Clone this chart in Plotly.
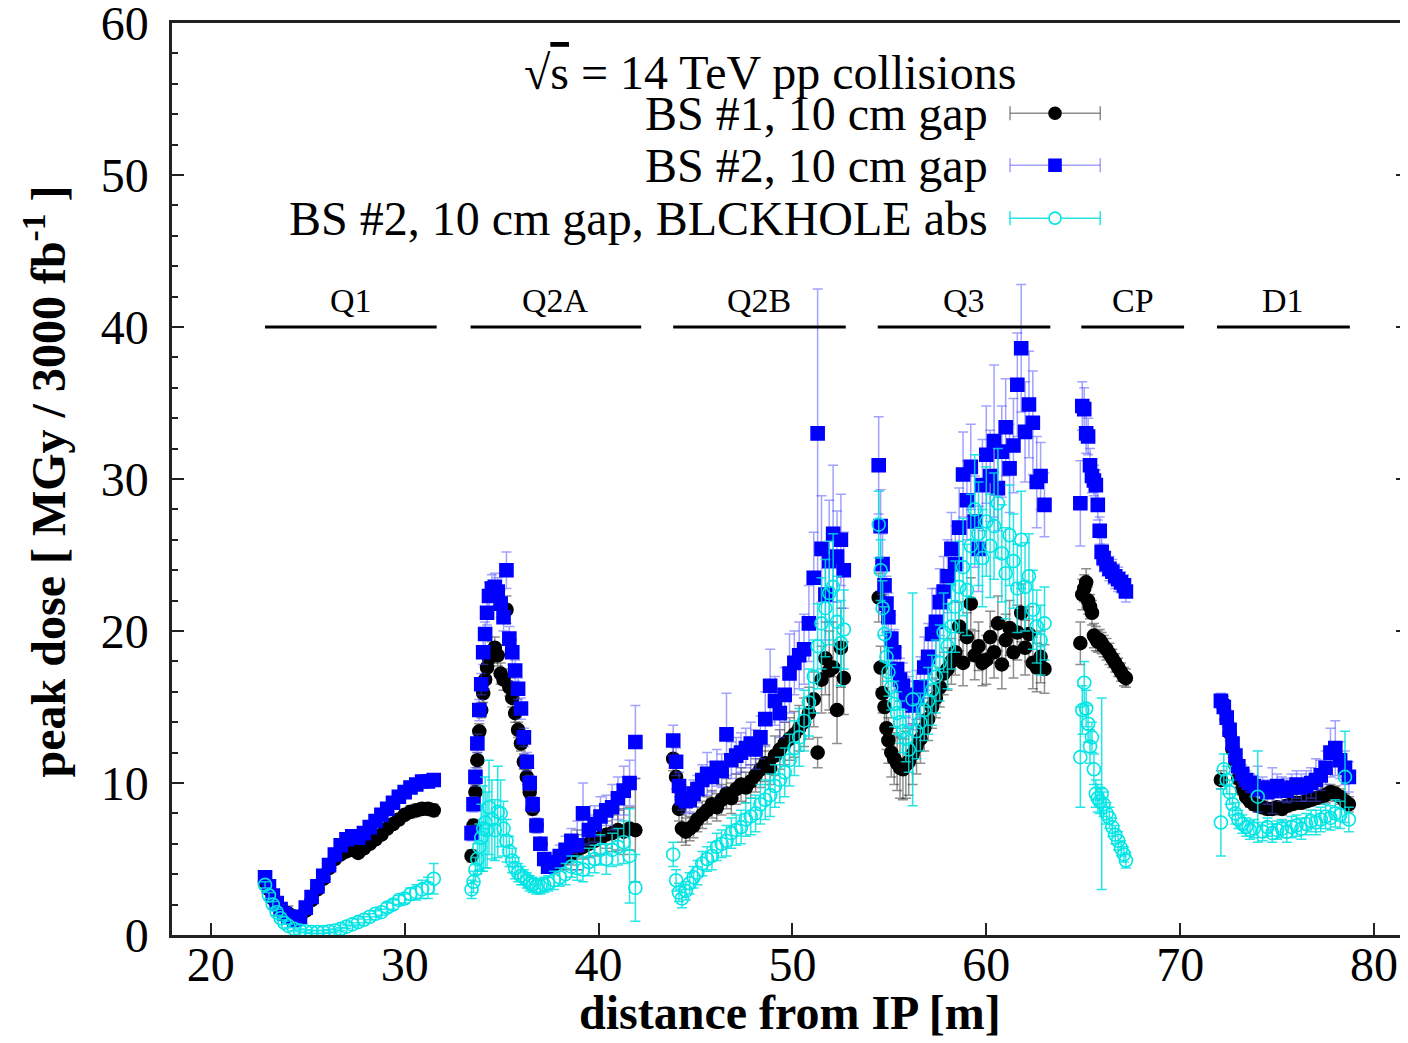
import plotly.graph_objects as go

FONT = "Liberation Serif"

# magnets along the beam line
magnets = ["Q1", "Q2A", "Q2B", "Q3", "CP", "D1"]
mag_start = [22.8, 33.4, 43.85, 54.4, 64.9, 71.9]
mag_end = [31.65, 42.2, 52.75, 63.3, 70.2, 78.75]
mag_level = 40.0

# ---- Q1 ----
z_q1 = [22.8, 23.0, 23.2, 23.4, 23.6, 23.8, 24.0, 24.3, 24.6, 24.9,
        25.2, 25.5, 25.8, 26.1, 26.4, 26.7, 27.0, 27.3, 27.6, 27.9,
        28.2, 28.5, 28.8, 29.1, 29.4, 29.7, 30.0, 30.3, 30.6, 30.9,
        31.2, 31.5]
bs1_q1 = [3.5, 3.0, 2.4, 2.0, 1.7, 1.5, 1.4, 1.2, 1.1, 1.6,
          2.3, 3.0, 3.7, 4.4, 5.0, 5.3, 5.5, 5.6, 5.4, 5.7,
          6.0, 6.3, 6.6, 7.0, 7.3, 7.6, 7.9, 8.1, 8.2, 8.3,
          8.3, 8.2]
bs2_q1 = [3.8, 3.2, 2.6, 2.1, 1.7, 1.4, 1.2, 1.0, 1.2, 1.8,
          2.5, 3.2, 3.9, 4.6, 5.3, 5.9, 6.3, 6.5, 6.4, 6.7,
          7.1, 7.5, 7.9, 8.3, 8.7, 9.1, 9.4, 9.7, 9.9, 10.1,
          10.1, 10.2]
blk_q1 = [3.3, 2.6, 2.0, 1.5, 1.1, 0.8, 0.6, 0.4, 0.3, 0.25,
          0.2, 0.2, 0.2, 0.25, 0.3, 0.4, 0.55, 0.7, 0.85, 1.0,
          1.2, 1.4, 1.5, 1.8, 2.0, 2.3, 2.4, 2.7, 2.8, 3.0,
          3.1, 3.7]
e_bs1_q1 = [0.3, 0.3, 0.3, 0.2, 0.2, 0.3, 0.5, 0.2, 0.2, 0.2,
            0.2, 0.2, 0.3, 0.3, 0.3, 0.3, 0.3, 0.3, 0.3, 0.3,
            0.3, 0.3, 0.3, 0.3, 0.3, 0.3, 0.3, 0.4, 0.4, 0.4,
            0.4, 0.4]
e_bs2_q1 = [0.3, 0.3, 0.3, 0.2, 0.2, 0.2, 0.2, 0.2, 0.2, 0.2,
            0.2, 0.3, 0.3, 0.3, 0.3, 0.3, 0.3, 0.3, 0.3, 0.3,
            0.3, 0.3, 0.3, 0.3, 0.3, 0.3, 0.4, 0.4, 0.4, 0.4,
            0.4, 0.4]
e_blk_q1 = [0.2, 0.2, 0.2, 0.2, 0.1, 0.1, 0.1, 0.1, 0.1, 0.1,
            0.1, 0.1, 0.1, 0.1, 0.1, 0.1, 0.1, 0.1, 0.2, 0.2,
            0.2, 0.2, 0.2, 0.3, 0.3, 0.3, 0.3, 0.4, 0.5, 0.6,
            0.7, 1.0]

# ---- Q2A ----
z_q2a = [33.45, 33.55, 33.65, 33.75, 33.85, 33.95, 34.05, 34.15, 34.25, 34.35,
         34.5, 34.65, 34.8, 34.95, 35.1, 35.25, 35.4, 35.55, 35.7, 35.85,
         36.0, 36.15, 36.3, 36.45, 36.6, 36.8, 37.0, 37.2, 37.4, 37.7,
         38.0, 38.3, 38.6, 38.9, 39.2, 39.5, 39.8, 40.1, 40.4, 40.7,
         41.0, 41.3, 41.6, 41.9]
bs1_q2a = [5.2, 7.2, 9.4, 11.5, 13.4, 14.8, 15.9, 16.8, 17.6, 18.2,
           18.6, 18.9, 18.4, 17.2, 16.8, 21.4, 16.3, 15.6, 14.6, 13.5,
           12.6, 11.4, 10.4, 9.4, 8.3, 7.2, 6.0, 5.0, 4.5, 4.6,
           4.9, 5.1, 5.3, 5.6, 5.8, 6.0, 6.2, 6.4, 6.6, 6.7,
           6.9, 6.8, 7.0, 6.9]
bs2_q2a = [6.7, 8.6, 10.4, 12.6, 14.8, 16.5, 18.6, 19.8, 21.2, 22.3,
           22.8, 22.9, 22.6, 21.8, 20.9, 24.0, 19.5, 18.6, 17.4, 16.2,
           14.9, 13.0, 11.4, 10.0, 8.6, 7.2, 6.0, 5.0, 4.5, 4.8,
           5.2, 5.6, 6.2, 5.9, 8.0, 6.9, 7.3, 7.8, 8.2, 8.4,
           9.0, 9.5, 10.0, 12.7]
blk_q2a = [3.0, 3.5, 4.3, 5.0, 5.8, 6.4, 7.0, 7.4, 6.9, 8.4,
           7.6, 6.9, 8.1, 8.0, 7.0, 6.2, 5.5, 4.9, 4.4, 4.1,
           3.9, 3.8, 3.6, 3.4, 3.3, 3.2, 3.2, 3.3, 3.4, 3.6,
           3.8, 4.0, 4.5, 4.4, 4.3, 4.8, 5.0, 5.6, 5.0, 5.6,
           5.8, 6.1, 5.2, 3.1]
e_bs1_q2a = [0.4, 0.4, 0.5, 0.5, 0.5, 0.5, 0.6, 0.6, 0.6, 0.6,
             0.7, 0.7, 0.7, 0.7, 0.7, 0.9, 0.6, 0.6, 0.6, 0.5,
             0.5, 0.5, 0.5, 0.4, 0.4, 0.4, 0.4, 0.3, 0.3, 0.5,
             0.6, 0.8, 0.7, 1.3, 0.8, 0.9, 1.0, 1.1, 0.9, 1.2,
             1.3, 1.5, 1.4, 3.4]
e_bs2_q2a = [0.5, 0.5, 0.6, 0.6, 0.7, 0.7, 0.8, 0.8, 0.8, 0.9,
             0.9, 0.9, 0.9, 0.9, 0.9, 1.2, 0.8, 0.8, 0.7, 0.7,
             0.7, 0.6, 0.6, 0.5, 0.5, 0.5, 0.4, 0.4, 0.4, 0.6,
             0.7, 0.9, 0.8, 1.6, 2.0, 1.0, 1.2, 1.3, 1.0, 1.5,
             1.4, 1.6, 1.5, 2.4]
e_blk_q2a = [0.6, 0.7, 0.8, 1.0, 1.5, 2.2, 2.8, 3.0, 2.5, 3.1,
             2.6, 2.0, 3.0, 2.2, 1.8, 1.4, 1.0, 0.8, 0.7, 0.6,
             0.6, 0.5, 0.5, 0.5, 0.5, 0.5, 0.5, 0.5, 0.5, 0.6,
             0.6, 0.7, 0.7, 0.8, 0.8, 0.9, 0.9, 1.0, 1.0, 1.1,
             1.2, 1.4, 3.1, 2.2]

# ---- Q2B ----
z_q2b = [43.85, 44.0, 44.15, 44.3, 44.5, 44.7, 44.9, 45.1, 45.35, 45.6,
         45.85, 46.1, 46.35, 46.6, 46.85, 47.1, 47.35, 47.6, 47.85, 48.1,
         48.35, 48.6, 48.85, 49.1, 49.35, 49.6, 49.85, 50.1, 50.35, 50.6,
         50.85, 51.1, 51.3, 51.5, 51.7, 51.9, 52.1, 52.3, 52.5, 52.65]
bs1_q2b = [11.6, 10.4, 8.3, 7.0, 6.8, 7.0, 7.2, 7.6, 7.9, 8.2,
           8.6, 8.4, 8.9, 9.3, 9.0, 9.6, 9.9, 9.7, 10.1, 10.5,
           10.9, 11.3, 11.0, 11.8, 12.2, 12.6, 12.9, 13.2, 13.6, 14.0,
           14.6, 15.5, 12.0, 16.8, 18.2, 17.4, 17.6, 14.8, 18.9, 16.9]
bs2_q2b = [12.8, 11.4, 9.8, 9.0, 8.8, 8.9, 9.3, 9.6, 10.2, 10.6,
           10.4, 11.0, 10.8, 13.2, 11.5, 11.8, 12.0, 12.3, 12.6, 12.2,
           13.0, 14.2, 16.4, 15.4, 14.6, 15.8, 17.2, 17.9, 18.4, 18.8,
           20.5, 23.5, 33.0, 25.4, 22.4, 24.6, 26.4, 24.9, 26.0, 24.0]
blk_q2b = [5.3, 3.6, 2.8, 2.4, 2.9, 3.4, 3.8, 4.1, 4.7, 5.0,
           5.2, 5.8, 6.0, 6.2, 6.7, 6.9, 7.1, 7.6, 7.8, 8.0,
           8.6, 8.9, 9.2, 9.8, 10.2, 10.7, 11.5, 12.3, 13.0, 14.1,
           15.3, 17.0, 19.0, 20.5, 21.5, 22.5, 22.9, 20.6, 19.2, 20.1]
e_bs1_q2b = [0.8, 0.8, 0.8, 0.9, 0.9, 0.8, 0.8, 0.8, 0.9, 0.9,
             0.9, 0.9, 1.0, 1.0, 1.0, 1.0, 1.1, 1.0, 1.1, 1.1,
             1.2, 1.2, 1.1, 1.3, 1.3, 1.4, 1.4, 1.5, 1.5, 1.6,
             1.7, 1.8, 1.0, 2.2, 2.4, 2.6, 3.0, 2.2, 2.6, 2.4]
e_bs2_q2b = [1.0, 0.9, 0.9, 0.8, 0.8, 0.8, 0.9, 0.9, 1.0, 1.4,
             1.0, 1.2, 1.1, 2.7, 1.2, 1.2, 1.3, 1.3, 1.4, 1.3,
             1.4, 1.8, 2.4, 1.6, 1.6, 1.8, 2.6, 2.1, 2.2, 2.3,
             2.5, 3.0, 9.5, 3.5, 3.0, 4.0, 4.5, 3.0, 3.0, 2.5]
e_blk_q2b = [0.8, 0.7, 0.6, 0.6, 0.6, 0.7, 0.7, 0.8, 0.8, 0.8,
             0.9, 0.9, 0.9, 1.0, 1.0, 1.0, 1.1, 1.1, 1.2, 1.2,
             1.3, 1.3, 1.4, 1.4, 1.5, 1.6, 1.7, 1.8, 1.9, 2.0,
             2.2, 2.4, 2.8, 3.0, 3.2, 3.4, 3.5, 3.0, 2.8, 2.6]

# ---- Q3 ----
z_q3 = [54.45, 54.55, 54.65, 54.75, 54.85, 54.95, 55.1, 55.25, 55.4, 55.55,
        55.7, 55.85, 56.0, 56.2, 56.4, 56.6, 56.8, 57.0, 57.2, 57.4,
        57.6, 57.8, 58.0, 58.2, 58.4, 58.6, 58.8, 59.0, 59.2, 59.4,
        59.6, 59.8, 60.0, 60.2, 60.4, 60.6, 60.8, 61.0, 61.2, 61.4,
        61.6, 61.8, 62.0, 62.2, 62.4, 62.6, 62.8, 63.0]
bs1_q3 = [22.2, 17.6, 15.9, 15.0, 13.6, 12.8, 12.0, 11.6, 11.3, 11.0,
          10.9, 11.2, 11.4, 11.9, 12.4, 12.9, 13.6, 14.2, 15.0, 15.6,
          16.3, 17.2, 17.5, 18.0, 18.6, 20.3, 17.9, 19.6, 21.8, 18.4,
          19.0, 17.9, 18.1, 19.6, 18.6, 20.5, 17.8, 19.4, 20.2, 18.6,
          19.9, 21.2, 18.9, 19.8, 17.9, 17.6, 18.3, 17.5]
bs2_q3 = [30.9, 26.9, 24.4, 23.0, 21.8, 20.9, 19.5, 18.6, 17.5, 16.8,
          16.4, 15.8, 15.4, 15.1, 15.6, 16.3, 17.6, 18.3, 19.8, 20.6,
          21.9, 22.6, 23.6, 25.4, 24.4, 26.8, 30.3, 28.6, 30.8, 27.2,
          25.4, 29.6, 31.6, 30.2, 32.5, 29.4, 31.8, 33.4, 30.7, 32.2,
          36.2, 38.6, 33.1, 34.9, 33.7, 29.8, 30.2, 28.3]
blk_q3 = [27.0, 24.0, 21.5, 19.8, 18.3, 17.3, 16.3, 15.2, 14.6, 14.0,
          13.4, 12.9, 12.2, 15.5, 13.4, 14.0, 14.8, 15.4, 16.1, 17.0,
          17.9, 19.9, 19.0, 20.3, 21.6, 22.9, 24.2, 22.7, 25.6, 28.0,
          26.4, 24.8, 27.2, 25.6, 26.9, 28.4, 25.1, 23.8, 26.3, 24.6,
          22.8, 26.0, 22.9, 23.6, 21.4, 20.3, 19.4, 20.5]
e_bs1_q3 = [1.6, 1.4, 1.3, 1.3, 1.4, 1.5, 1.6, 1.7, 1.8, 2.0,
            2.0, 2.2, 2.2, 2.0, 1.8, 1.6, 1.5, 1.4, 1.4, 1.3,
            1.3, 1.4, 1.4, 1.5, 1.5, 1.6, 1.5, 1.6, 1.7, 1.6,
            1.6, 1.5, 1.6, 1.7, 1.7, 1.8, 1.6, 1.7, 1.8, 1.7,
            1.8, 1.9, 1.8, 1.8, 1.7, 1.6, 1.7, 1.6]
e_bs2_q3 = [3.2, 2.4, 2.0, 1.8, 1.8, 1.6, 1.5, 1.5, 1.4, 1.4,
            1.5, 1.5, 1.6, 1.6, 1.8, 2.0, 2.0, 2.2, 3.0, 2.2,
            2.2, 2.3, 2.4, 2.4, 2.5, 2.6, 2.8, 2.6, 2.8, 3.0,
            2.8, 3.0, 3.2, 3.0, 5.0, 2.8, 3.0, 3.2, 2.9, 3.1,
            3.4, 4.2, 3.3, 3.5, 3.4, 3.0, 2.2, 2.1]
e_blk_q3 = [2.2, 2.0, 1.8, 1.8, 1.6, 1.6, 1.5, 1.5, 1.4, 1.4,
            1.4, 1.5, 1.5, 7.0, 1.8, 1.9, 2.0, 2.2, 2.3, 2.4,
            2.5, 2.6, 2.8, 2.8, 3.0, 3.0, 3.2, 3.0, 3.4, 3.6,
            3.4, 3.2, 3.6, 3.4, 3.5, 3.6, 3.2, 3.0, 3.3, 3.1,
            2.9, 3.2, 2.9, 2.8, 2.6, 2.4, 2.3, 2.4]

# ---- CP ----
z_cp = [64.85, 64.95, 65.05, 65.15, 65.25, 65.35, 65.45, 65.55, 65.65, 65.75,
        65.85, 65.95, 66.05, 66.2, 66.35, 66.5, 66.65, 66.8, 66.95, 67.1,
        67.2]
bs1_cp = [19.2, 22.4, 22.8, 23.2, 22.0, 21.6, 21.2, 19.7, 19.5, 19.3,
          19.4, 19.2, 19.0, 18.8, 18.5, 18.2, 17.9, 17.6, 17.3, 17.0,
          16.9]
bs2_cp = [28.4, 34.8, 34.6, 33.0, 32.8, 30.9, 30.2, 29.9, 29.6, 28.3,
          26.6, 25.2, 24.8, 24.4, 24.1, 23.9, 23.6, 23.4, 23.2, 23.0,
          22.6]
blk_cp = [11.7, 14.8, 16.6, 14.9, 13.9, 12.4, 13.0, 10.9, 9.3, 9.0,
          8.8, 9.3, 8.6, 8.0, 7.7, 7.1, 6.6, 6.2, 5.7, 5.3,
          4.9]
e_bs1_cp = [1.4, 1.0, 0.9, 0.9, 0.9, 0.8, 0.8, 0.8, 0.8, 0.7,
            0.7, 0.7, 0.7, 0.7, 0.7, 0.6, 0.6, 0.6, 0.6, 0.6,
            0.6]
e_bs2_cp = [2.8, 1.6, 1.4, 1.3, 1.2, 1.1, 1.1, 1.0, 1.0, 1.0,
            0.9, 0.9, 0.9, 0.8, 0.8, 0.8, 0.8, 0.8, 0.7, 0.7,
            0.7]
e_blk_cp = [3.3, 1.6, 1.4, 1.2, 1.2, 1.1, 1.0, 1.0, 0.9, 0.9,
            0.8, 6.3, 0.8, 0.7, 0.7, 0.6, 0.6, 0.6, 0.5, 0.5,
            0.5]

# ---- D1 ----
z_d1 = [72.1, 72.25, 72.4, 72.55, 72.7, 72.85, 73.0, 73.2, 73.4, 73.6,
        73.8, 74.0, 74.25, 74.5, 74.75, 75.0, 75.25, 75.5, 75.75, 76.0,
        76.25, 76.5, 76.75, 77.0, 77.25, 77.5, 77.75, 78.0, 78.25, 78.5,
        78.7]
bs1_d1 = [10.2, 15.2, 14.2, 13.3, 12.2, 11.2, 10.3, 9.6, 9.1, 8.8,
          8.6, 8.5, 8.4, 8.3, 8.3, 8.4, 8.3, 8.5, 8.6, 8.7,
          8.7, 8.8, 8.9, 9.0, 9.1, 9.2, 9.4, 9.3, 9.1, 8.8,
          8.6]
bs2_d1 = [15.4, 15.0, 14.3, 13.5, 12.6, 11.8, 11.1, 10.6, 10.2, 10.0,
          9.8, 9.6, 9.7, 9.4, 9.5, 9.8, 9.6, 9.5, 9.7, 9.9,
          9.7, 9.8, 10.0, 10.2, 10.5, 11.0, 12.0, 12.3, 11.5, 11.0,
          10.4]
blk_d1 = [7.4, 10.9, 10.2, 9.4, 8.6, 8.0, 7.6, 7.3, 7.1, 6.9,
          7.0, 9.1, 6.8, 7.1, 6.7, 6.9, 7.0, 6.8, 7.1, 7.2,
          7.0, 7.3, 7.5, 7.4, 7.6, 7.8, 7.7, 8.0, 7.9, 10.4,
          7.6]
e_bs1_d1 = [0.6, 0.5, 0.5, 0.5, 0.5, 0.5, 0.4, 0.4, 0.4, 0.4,
            0.4, 0.4, 0.4, 0.4, 0.4, 0.4, 0.4, 0.4, 0.4, 0.4,
            0.4, 0.4, 0.4, 0.4, 0.5, 0.5, 0.5, 0.5, 0.5, 0.5,
            0.5]
e_bs2_d1 = [0.5, 0.5, 0.5, 0.5, 0.5, 0.5, 0.5, 0.6, 0.6, 0.6,
            0.7, 1.5, 0.7, 0.8, 1.5, 0.8, 0.8, 0.8, 0.9, 0.9,
            0.9, 1.0, 1.0, 1.4, 1.0, 1.1, 1.6, 1.8, 1.2, 1.1,
            1.0]
e_blk_d1 = [2.2, 1.0, 0.9, 0.8, 0.7, 0.7, 0.6, 0.6, 0.6, 0.6,
            0.6, 3.0, 0.6, 0.6, 0.6, 0.6, 0.6, 0.7, 0.7, 0.7,
            0.7, 0.7, 0.7, 0.8, 0.8, 0.8, 0.8, 0.9, 0.9, 3.0,
            0.8]

z = z_q1 + z_q2a + z_q2b + z_q3 + z_cp + z_d1
bs1 = bs1_q1 + bs1_q2a + bs1_q2b + bs1_q3 + bs1_cp + bs1_d1
bs2 = bs2_q1 + bs2_q2a + bs2_q2b + bs2_q3 + bs2_cp + bs2_d1
blk = blk_q1 + blk_q2a + blk_q2b + blk_q3 + blk_cp + blk_d1
e_bs1 = e_bs1_q1 + e_bs1_q2a + e_bs1_q2b + e_bs1_q3 + e_bs1_cp + e_bs1_d1
e_bs2 = e_bs2_q1 + e_bs2_q2a + e_bs2_q2b + e_bs2_q3 + e_bs2_cp + e_bs2_d1
e_blk = e_blk_q1 + e_blk_q2a + e_blk_q2b + e_blk_q3 + e_blk_cp + e_blk_d1

names = ["BS #1, 10 cm gap", "BS #2, 10 cm gap", "BS #2, 10 cm gap, BLCKHOLE abs"]
colors = ["black", "#0000ff", "#00e5e5"]
err_colors = ["rgba(50,50,50,0.55)", "rgba(70,70,255,0.5)", "rgba(0,225,225,0.85)"]
symbols = ["circle", "square", "circle-open"]

fig = go.Figure()
for name, y, err, col, ecol, sym in zip(names, [bs1, bs2, blk], [e_bs1, e_bs2, e_blk],
                                         colors, err_colors, symbols):
    fig.add_trace(go.Scatter(
        x=z, y=y, mode="markers", name=name, showlegend=False,
        marker=dict(symbol=sym, size=13, color=col, line=dict(width=1.6, color=col)),
        error_y=dict(type="data", array=err, color=ecol, thickness=1.5, width=5),
    ))

# magnet bars and labels
for name, a, b in zip(magnets, mag_start, mag_end):
    fig.add_shape(type="line", x0=a, x1=b, y0=mag_level, y1=mag_level,
                  line=dict(color="black", width=3))
    fig.add_annotation(x=(a + b) / 2, y=mag_level, text=name, showarrow=False,
                       yanchor="middle", yshift=27,
                       font=dict(family=FONT, size=34, color="black"))

# gnuplot-style key: text on the left, sample on the right
fig.add_annotation(xref="paper", yref="paper", x=0.484, y=0.946, showarrow=False,
                   yanchor="middle",
                   text="√<span style='text-decoration:overline'>s</span> = 14 TeV pp collisions",
                   font=dict(family=FONT, size=48, color="black"))
key_y = [0.901, 0.844, 0.786]
kx0, kx1, kxm = 0.678, 0.751, 0.7144
for i, ky in enumerate(key_y):
    fig.add_annotation(xref="paper", yref="paper", x=0.662, y=ky, xanchor="right",
                       yanchor="middle", showarrow=False, text=names[i],
                       font=dict(family=FONT, size=48, color="black"))
    fig.add_shape(type="line", xref="paper", yref="paper", x0=kx0, x1=kx1, y0=ky, y1=ky,
                  line=dict(color=err_colors[i], width=1.5))
    for cx in (kx0, kx1):
        fig.add_shape(type="line", xref="paper", yref="paper", xsizemode="pixel",
                      ysizemode="pixel", xanchor=cx, yanchor=ky, x0=0, x1=0, y0=-7, y1=7,
                      line=dict(color=err_colors[i], width=1.5))
    shape_type = "rect" if symbols[i] == "square" else "circle"
    filled = symbols[i] != "circle-open"
    fig.add_shape(type=shape_type, xref="paper", yref="paper", xsizemode="pixel",
                  ysizemode="pixel", xanchor=kxm, yanchor=ky, x0=-6, x1=6, y0=-6, y1=6,
                  fillcolor=colors[i] if filled else "white",
                  line=dict(color=colors[i], width=1.6))

# axis titles
fig.add_annotation(xref="paper", yref="paper", x=0.5, y=-0.085, showarrow=False,
                   xanchor="center", yanchor="middle",
                   text="<b>distance from IP [m]</b>",
                   font=dict(family=FONT, size=48, color="black"))
fig.add_annotation(xref="paper", yref="paper", x=-0.103, y=0.497, showarrow=False,
                   xanchor="center", yanchor="middle", textangle=-90,
                   text="<b>peak dose [ MGy / 3000 fb<sup>-1</sup> ]</b>",
                   font=dict(family=FONT, size=48, color="black"))

axis_font = dict(family=FONT, size=48, color="black")
# the page body adds an 8px offset, so the figure is 8px smaller than the window
fig.update_layout(
    width=1400, height=1035,
    margin=dict(l=164, r=0, t=15, b=108),
    paper_bgcolor="white", plot_bgcolor="white",
    font=dict(family=FONT, color="black"),
    xaxis=dict(range=[18, 81.75], tickvals=[20, 30, 40, 50, 60, 70, 80],
               ticks="inside", ticklen=12, tickwidth=2, tickcolor="#222",
               showline=True, linewidth=2.5, linecolor="#222", mirror=True,
               showgrid=False, zeroline=False, tickfont=axis_font,
               ticklabelstandoff=-14, ticklabeloverflow="allow", automargin=False),
    yaxis=dict(range=[0, 60], tickvals=[0, 10, 20, 30, 40, 50, 60],
               ticks="inside", ticklen=12, tickwidth=2,
               tickcolor="#222", showline=True, linewidth=2.5, linecolor="#222",
               mirror="ticks", showgrid=False, zeroline=False, tickfont=axis_font,
               ticklabelstandoff=11, ticklabeloverflow="allow", automargin=False,
               minor=dict(dtick=2, ticks="inside", ticklen=6, tickwidth=1.5, tickcolor="#222")),
)

fig.write_html("out.html")
